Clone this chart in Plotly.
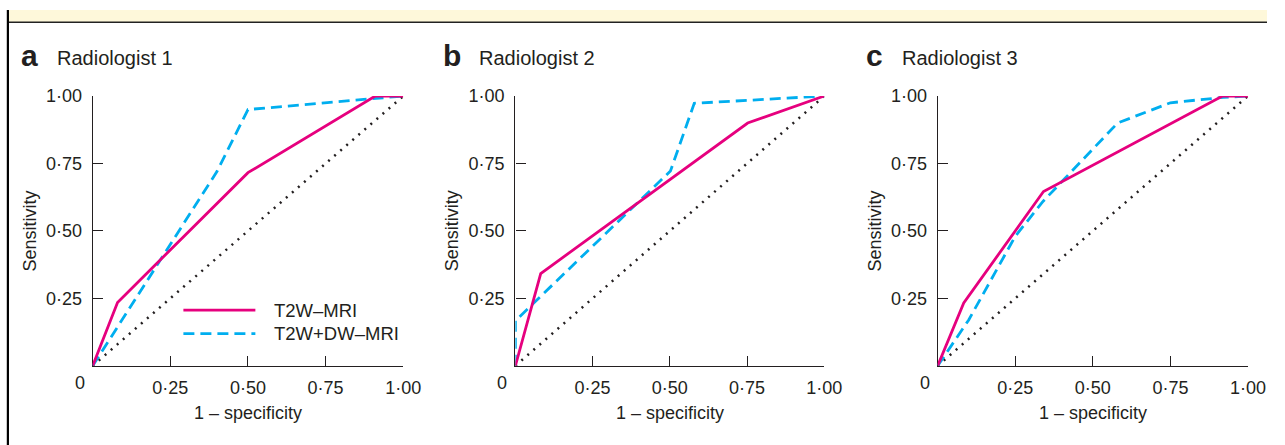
import plotly.graph_objects as go

# ---------------- data ----------------
panel_letters = ["a", "b", "c"]
panel_titles = ["Radiologist 1", "Radiologist 2", "Radiologist 3"]
series_names = ["T2W\u2013MRI", "T2W+DW\u2013MRI"]

# Radiologist 1
r1_t2w_x = [0, 0.08, 0.50, 0.91, 1.00]
r1_t2w_y = [0, 0.235, 0.716, 1.00, 1.00]
r1_dw_x = [0, 0.40, 0.50, 0.91, 1.00]
r1_dw_y = [0, 0.72, 0.95, 0.99, 1.00]

# Radiologist 2
r2_t2w_x = [0, 0.082, 0.752, 1.00]
r2_t2w_y = [0, 0.342, 0.90, 1.00]
r2_dw_x = [0, 0, 0.502, 0.579, 1.00]
r2_dw_y = [0, 0.167, 0.722, 0.973, 1.00]

# Radiologist 3
r3_t2w_x = [0, 0.084, 0.341, 0.918, 1.00]
r3_t2w_y = [0, 0.233, 0.646, 1.00, 1.00]
r3_dw_x = [0, 0.10, 0.25, 0.34, 0.58, 0.75, 0.92, 1.00]
r3_dw_y = [0, 0.17, 0.48, 0.61, 0.90, 0.975, 0.995, 1.00]

chance_x = [0, 1]
chance_y = [0, 1]

tick_vals = [0.25, 0.50, 0.75, 1.00]
tick_text = ["0\u00b725", "0\u00b750", "0\u00b775", "1\u00b700"]
x_title = "1 \u2013 specificity"
y_title = "Sensitivity"

# ---------------- styling ----------------
W, H = 1285, 445
PINK = "#E6007E"
CYAN = "#00AEEF"
INK = "#231F20"
FONT = "Liberation Sans, Arial, Helvetica, sans-serif"
FS = 18

panel_px = [(94, 409), (522.7, 836), (951, 1265.7)]
y_px = (88, 364)

panels = [
    (r1_t2w_x, r1_t2w_y, r1_dw_x, r1_dw_y),
    (r2_t2w_x, r2_t2w_y, r2_dw_x, r2_dw_y),
    (r3_t2w_x, r3_t2w_y, r3_dw_x, r3_dw_y),
]


def py(p):
    """pixel-from-top -> paper fraction"""
    return (H - p) / H


fig = go.Figure()
annotations = []
shapes = []

for i, (tx, ty, dx, dy) in enumerate(panels):
    n = "" if i == 0 else str(i + 1)
    xa, ya = "x" + n, "y" + n
    fig.add_trace(go.Scatter(x=chance_x, y=chance_y, mode="lines", xaxis=xa, yaxis=ya,
                             line=dict(color=INK, width=2.5, dash="2px,6px"),
                             showlegend=False, cliponaxis=False, hoverinfo="skip"))
    fig.add_trace(go.Scatter(x=dx, y=dy, mode="lines", xaxis=xa, yaxis=ya, name=series_names[1],
                             line=dict(color=CYAN, width=2.8, dash="11px,6px"),
                             showlegend=False, cliponaxis=False))
    fig.add_trace(go.Scatter(x=tx, y=ty, mode="lines", xaxis=xa, yaxis=ya, name=series_names[0],
                             line=dict(color=PINK, width=2.8),
                             showlegend=False, cliponaxis=False))

    x0, x1 = panel_px[i]
    axis_common = dict(range=[0, 1], showgrid=False, zeroline=False, showline=True,
                       linecolor=INK, linewidth=1.3, ticks="inside", ticklen=10,
                       tickwidth=1.3, tickcolor=INK, tickvals=tick_vals, ticktext=tick_text,
                       tickfont=dict(family=FONT, size=FS, color=INK), layer="below traces",
                       fixedrange=True)
    fig.update_layout(**{
        "xaxis" + n: dict(domain=[x0 / W, x1 / W], anchor=ya, ticklabelstandoff=5, **axis_common),
        "yaxis" + n: dict(domain=[py(y_px[1]), py(y_px[0])], anchor=xa,
                          ticklabelstandoff=6, **axis_common),
    })

    dom = xa + " domain"
    ydom = ya + " domain"
    # "0" origin label
    annotations.append(dict(text="0", xref=dom, yref="paper", x=0, y=py(382), xshift=-13,
                            xanchor="center", yanchor="middle",
                            showarrow=False, font=dict(family=FONT, size=FS, color=INK)))
    # axis titles
    annotations.append(dict(text=x_title, xref=dom, yref="paper", x=0.5, y=py(412),
                            xanchor="center", yanchor="middle",
                            showarrow=False, font=dict(family=FONT, size=FS, color=INK)))
    annotations.append(dict(text=y_title, xref=dom, yref=ydom, x=0, y=0.5, xshift=-63,
                            xanchor="center", yanchor="middle",
                            textangle=-90, showarrow=False,
                            font=dict(family=FONT, size=FS, color=INK)))
    # panel letter & title
    annotations.append(dict(text="<b>" + panel_letters[i] + "</b>", xref=dom, yref="paper",
                            x=0, xanchor="left", xshift=-74, y=py(47), yanchor="middle",
                            showarrow=False, font=dict(family=FONT, size=30, color=INK)))
    annotations.append(dict(text=panel_titles[i], xref=dom, yref="paper",
                            x=0, xanchor="left", xshift=-38, y=py(49), yanchor="middle",
                            showarrow=False, font=dict(family=FONT, size=20, color=INK)))

# legend (panel a), drawn manually to match the long line samples
leg_items = [(series_names[0], PINK, "solid", (364 - 307) / 276),
             (series_names[1], CYAN, "11px,6px", (364 - 331) / 276)]
for name, col, dash, yy in leg_items:
    shapes.append(dict(type="line", xref="x domain", yref="y domain",
                       x0=(186 - 94) / 315, x1=(259 - 94) / 315, y0=yy, y1=yy,
                       line=dict(color=col, width=2.8, dash=dash)))
    annotations.append(dict(text=name, xref="x domain", yref="y domain",
                            x=(276 - 94) / 315, y=yy, xanchor="left", yanchor="middle",
                            showarrow=False, font=dict(family=FONT, size=18.5, color=INK)))

# banner on top & left rule
shapes.append(dict(type="rect", xref="paper", yref="paper", x0=9 / W, x1=1, y0=py(12.5), y1=1,
                   fillcolor="#FEF8DA", line=dict(width=0), layer="below"))
shapes.append(dict(type="line", xref="paper", yref="paper", x0=9 / W, x1=1,
                   y0=py(12.5), y1=py(12.5), line=dict(color="#222", width=1.6)))
shapes.append(dict(type="line", xref="paper", yref="paper", x0=8 / W, x1=8 / W,
                   y0=0, y1=1, line=dict(color="#000", width=2.2)))

fig.update_layout(width=W, height=H, margin=dict(l=0, r=0, t=0, b=0),
                  paper_bgcolor="white", plot_bgcolor="white",
                  annotations=annotations, shapes=shapes, showlegend=False,
                  font=dict(family=FONT, color=INK))

post = ("document.documentElement.style.margin='0';"
        "document.body.style.margin='0';document.body.style.padding='0';")

fig.write_html("out.html", config={"displayModeBar": False}, post_script=post)
